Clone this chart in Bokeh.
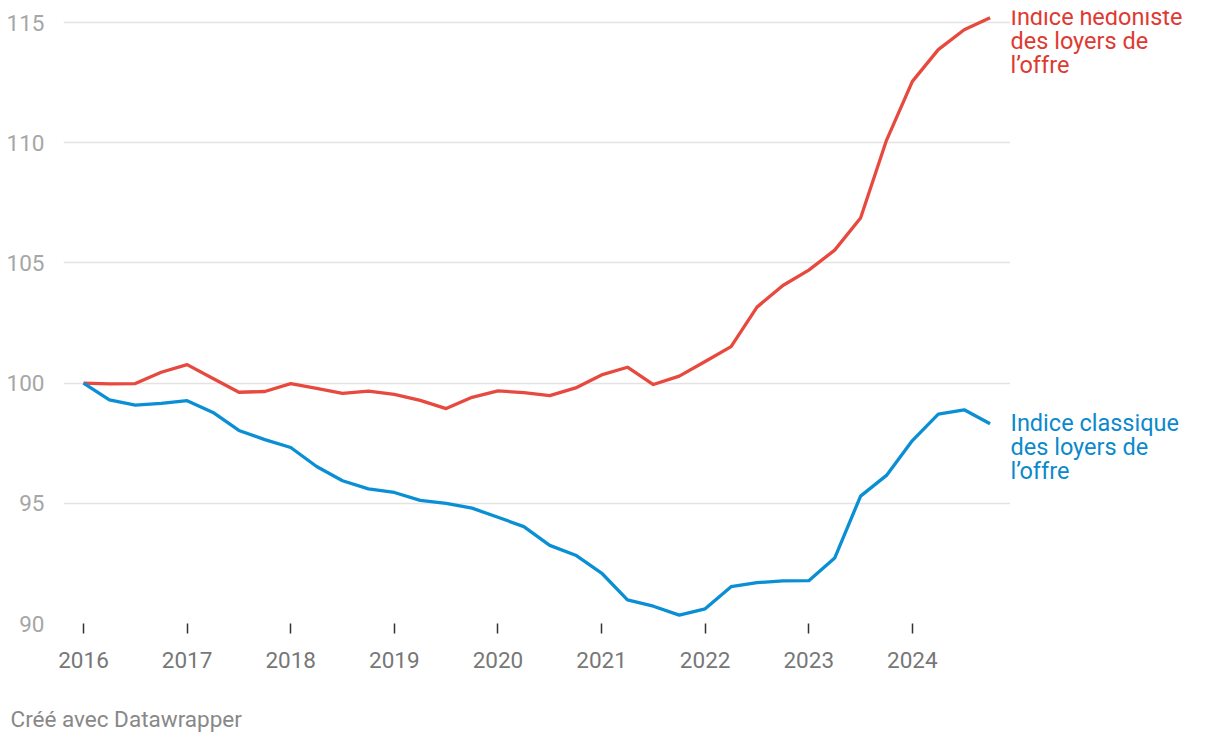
from bokeh.plotting import figure
from bokeh.models import FixedTicker, Range1d
from bokeh.core.properties import value
from bokeh.layouts import row, column
from bokeh.embed import file_html
from bokeh.resources import INLINE

# ---- data (quarterly, 2016 Q1 .. 2024 Q4) ----
quarters = [2016 + i * 0.25 for i in range(36)]
hedonic = [100.0, 99.97, 99.98, 100.45, 100.77, 100.19, 99.62, 99.65, 99.98, 99.78,
           99.57, 99.67, 99.53, 99.28, 98.94, 99.41, 99.68, 99.60, 99.48, 99.80,
           100.34, 100.66, 99.94, 100.29, 100.90, 101.52, 103.16, 104.06, 104.70, 105.53,
           106.87, 110.10, 112.55, 113.87, 114.70, 115.20]
classic = [100.0, 99.30, 99.08, 99.16, 99.27, 98.78, 98.03, 97.65, 97.32, 96.53,
           95.94, 95.60, 95.45, 95.12, 95.00, 94.80, 94.42, 94.03, 93.25, 92.84,
           92.10, 90.98, 90.72, 90.35, 90.61, 91.53, 91.70, 91.77, 91.78, 92.72,
           95.30, 96.16, 97.61, 98.71, 98.89, 98.31]
year_ticks = [2016, 2017, 2018, 2019, 2020, 2021, 2022, 2023, 2024]
y_ticks = [90, 95, 100, 105, 110, 115]
label_hedonic = "Indice hédoniste\ndes loyers de\nl\u2019offre"
label_classic = "Indice classique\ndes loyers de\nl\u2019offre"
footer = "Créé avec Datawrapper"

RED = "#e8493f"
RED_TXT = "#de3a32"
BLUE = "#0a8fd4"
BLUE_TXT = "#0b89cc"
FONT = "Roboto"
FS = "22.5px"

# geometry (pixels)
H_TOTAL = 742
H = 700
W1, W2 = 1010, 210
left = 63
top_b, bot_b = 10, H - 623
px_per_year = (1010 - left) / 9.14
px_per_unit = (623 - 22) / 25.0
x0 = 2016 - (83 - left) / px_per_year
x1 = x0 + (W1 - left) / px_per_year
y_range = Range1d(90, 115 + (22 - top_b) / px_per_unit)

p = figure(width=W1, height=H, output_backend="svg", toolbar_location=None,
           x_range=Range1d(x0, x1), y_range=y_range,
           min_border_left=left, min_border_right=0,
           min_border_top=top_b, min_border_bottom=bot_b)
p.outline_line_color = None
p.border_fill_color = "white"

p.line(quarters, hedonic, line_color=RED, line_width=3.3, line_join="round")
p.line(quarters, classic, line_color=BLUE, line_width=3.3, line_join="round")

# grid
p.xgrid.grid_line_color = None
p.ygrid.grid_line_color = "#e3e3e3"
p.ygrid.grid_line_width = 1.3
p.ygrid.ticker = FixedTicker(ticks=y_ticks)

# y axis
p.yaxis.ticker = FixedTicker(ticks=y_ticks)
p.yaxis.axis_line_color = None
p.yaxis.major_tick_line_color = None
p.yaxis.minor_tick_line_color = None
p.yaxis.major_label_text_color = "#a6a6a6"
p.yaxis.major_label_text_font = FONT
p.yaxis.major_label_text_font_size = FS
p.yaxis.major_label_standoff = 13

# x axis
p.xaxis.ticker = FixedTicker(ticks=year_ticks)
p.xaxis.axis_line_color = None
p.xaxis.major_tick_line_color = "#333333"
p.xaxis.major_tick_line_width = 1.5
p.xaxis.major_tick_in = 0
p.xaxis.major_tick_out = 10
p.xaxis.minor_tick_line_color = None
p.xaxis.major_label_text_color = "#777777"
p.xaxis.major_label_text_font = FONT
p.xaxis.major_label_text_font_size = FS
p.xaxis.major_label_standoff = 18

# label panel sharing the y scale
p2 = figure(width=W2, height=H, output_backend="svg", toolbar_location=None,
            x_range=Range1d(0, 1), y_range=y_range,
            x_axis_location=None, y_axis_location=None,
            min_border_left=0, min_border_right=0,
            min_border_top=top_b, min_border_bottom=bot_b)
p2.outline_line_color = None
p2.grid.grid_line_color = None
p2.border_fill_color = "white"
off = 15 / px_per_unit
p2.text(x=[0, 0], y=[hedonic[-1] + off, classic[-1] + off],
        text=[label_hedonic, label_classic], text_color=[RED_TXT, BLUE_TXT],
        text_font=value(FONT), text_font_size="23.5px",
        text_baseline="top", text_align="left", text_line_height=0.87)

# footer strip (pixel-scaled)
FH = H_TOTAL - H
p3 = figure(width=W1 + W2, height=FH, output_backend="svg", toolbar_location=None,
            x_range=Range1d(0, W1 + W2), y_range=Range1d(0, FH),
            x_axis_location=None, y_axis_location=None,
            min_border_left=0, min_border_right=0, min_border_top=0, min_border_bottom=0)
p3.outline_line_color = None
p3.grid.grid_line_color = None
p3.border_fill_color = "white"
p3.text(x=[10], y=[H_TOTAL - 718], text=[footer], text_color="#888888",
        text_font=value(FONT), text_font_size="22.5px",
        text_baseline="middle", text_align="left")

layout = column(row(p, p2), p3)
open("out.html", "w").write(file_html(layout, INLINE))
